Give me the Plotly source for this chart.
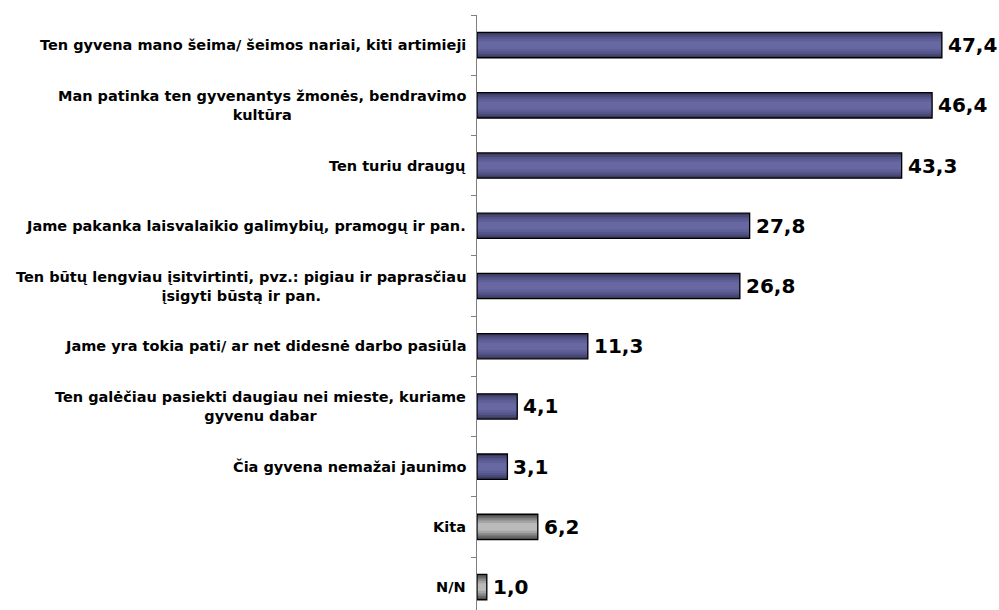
import plotly.graph_objects as go

categories = [
    "Ten gyvena mano šeima/ šeimos nariai, kiti artimieji",
    "Man patinka ten gyvenantys žmonės, bendravimo<br>kultūra",
    "Ten turiu draugų",
    "Jame pakanka laisvalaikio galimybių, pramogų ir pan.",
    "Ten būtų lengviau įsitvirtinti, pvz.: pigiau ir paprasčiau<br>įsigyti būstą ir pan.",
    "Jame yra tokia pati/ ar net didesnė darbo pasiūla",
    "Ten galėčiau pasiekti daugiau nei mieste, kuriame<br>gyvenu dabar",
    "Čia gyvena nemažai jaunimo",
    "Kita",
    "N/N",
]
values = [47.4, 46.4, 43.3, 27.8, 26.8, 11.3, 4.1, 3.1, 6.2, 1.0]
groups = ["main"] * 8 + ["other"] * 2

FONT = "DejaVu Sans"
BAR_W = 0.42
layers = [
    (1.00, "#383860", "#4e4e4e"),
    (0.85, "#484876", "#6a6a6a"),
    (0.68, "#55558a", "#888888"),
    (0.50, "#5f5f98", "#a4a4a4"),
    (0.30, "#6767a2", "#bababa"),
]

fig = go.Figure()
for frac, cm, co in layers:
    fig.add_trace(go.Bar(
        x=values, y=categories, orientation="h",
        width=[BAR_W * frac] * len(values),
        marker=dict(color=[cm if g == "main" else co for g in groups], line=dict(width=0)),
        hoverinfo="skip", showlegend=False,
    ))
fig.add_trace(go.Bar(
    x=values, y=categories, orientation="h",
    width=[BAR_W] * len(values),
    marker=dict(color="rgba(0,0,0,0)", line=dict(color="#000000", width=1.3)),
    hoverinfo="skip", showlegend=False,
))

annotations = []
for cat, v in zip(categories, values):
    annotations.append(dict(
        x=0, xref="paper", y=cat, yref="y", text=f"<b>{cat}</b>",
        xanchor="right", yanchor="middle", align="center", xshift=-9,
        showarrow=False, font=dict(family=FONT, size=14.5, color="#000000"),
    ))
    annotations.append(dict(
        x=v, xref="x", y=cat, yref="y", text="<b>" + f"{v:.1f}".replace(".", ",") + "</b>",
        xanchor="left", yanchor="middle", xshift=4,
        showarrow=False, font=dict(family=FONT, size=20, color="#000000"),
    ))

fig.update_layout(
    width=999, height=610,
    margin=dict(l=477, r=12, t=15, b=0),
    paper_bgcolor="#ffffff", plot_bgcolor="#ffffff",
    barmode="overlay",
    annotations=annotations,
    xaxis=dict(range=[0, 52], visible=False, showgrid=False, zeroline=False),
    yaxis=dict(
        type="category", categoryorder="array", categoryarray=categories,
        range=[9.38, -0.5], showticklabels=False, showgrid=False, zeroline=False,
        showline=True, linecolor="#808080", linewidth=1,
        ticks="outside", tickson="boundaries", ticklen=5, tickcolor="#808080",
    ),
)

fig.write_html(
    "out.html",
    config={"displayModeBar": False},
    post_script="document.body.style.margin='0';document.body.style.overflow='hidden';",
)
